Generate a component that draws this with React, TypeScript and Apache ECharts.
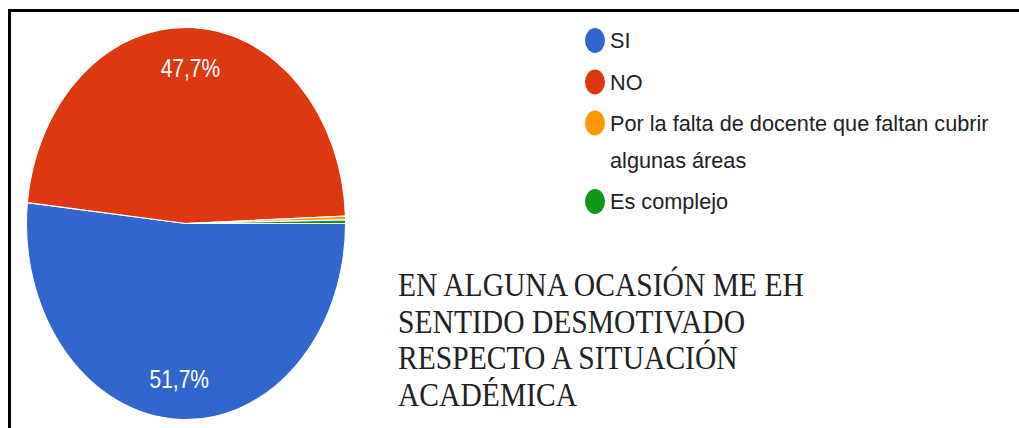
import React, { useEffect, useRef } from 'react';
import * as echarts from 'echarts';

const categories = [
  'SI',
  'NO',
  'Por la falta de docente que faltan cubrir algunas áreas',
  'Es complejo',
];
const shares = [51.7, 47.7, 0.3, 0.3];
const sliceColors = ['#3366cc', '#dc3912', '#ff9900', '#109618'];
const titleLines = [
  'EN ALGUNA OCASIÓN ME EH',
  'SENTIDO DESMOTIVADO',
  'RESPECTO A SITUACIÓN',
  'ACADÉMICA',
];

const STRETCH = 1.23;
const SANS = 'Liberation Sans, Arial, sans-serif';
const SERIF = 'Liberation Serif, Times New Roman, serif';
const ELLIPSE = 'path://M10,0A10,12.5,0,1,1,10,25A10,12.5,0,1,1,10,0Z';

export default function App() {
  const pieRef = useRef<HTMLDivElement>(null);
  const mainRef = useRef<HTMLDivElement>(null);

  useEffect(() => {
    document.body.style.margin = '0';
    const pie = echarts.init(pieRef.current!, null, { renderer: 'svg' });
    const main = echarts.init(mainRef.current!, null, { renderer: 'svg' });

    const data = categories.map((name, i) => ({
      name,
      value: shares[i],
      itemStyle: { color: sliceColors[i] },
    }));

    const R = 159.5;
    const center = [186, 181.7];

    pie.setOption({
      animation: false,
      color: sliceColors,
      series: [
        {
          type: 'pie',
          center,
          radius: [0, R],
          startAngle: 0,
          clockwise: true,
          silent: true,
          data,
          label: { show: false },
          labelLine: { show: false },
          itemStyle: { borderColor: '#ffffff', borderWidth: 1 },
        },
        {
          type: 'pie',
          center,
          radius: [R * 0.55, R],
          startAngle: 0,
          clockwise: true,
          silent: true,
          avoidLabelOverlap: false,
          data: data.map((d) => ({ ...d, itemStyle: { color: 'rgba(0,0,0,0)' } })),
          itemStyle: { color: 'rgba(0,0,0,0)', borderWidth: 0 },
          labelLine: { show: false },
          label: {
            show: true,
            position: 'inside',
            color: '#ffffff',
            fontFamily: SANS,
            fontSize: 21,
            formatter: (p: any) =>
              p.value >= 5 ? p.value.toFixed(1).replace('.', ',') + '%' : '',
          },
        },
      ],
    });

    const legendBase = {
      orient: 'vertical',
      left: 585,
      itemWidth: 20,
      itemHeight: 25,
      itemGap: 16.5,
      itemTextGap: 9,
      icon: ELLIPSE,
      selectedMode: false,
      padding: 0,
    };
    const legendText = { fontFamily: SANS, fontSize: 21.7, color: '#222222', lineHeight: 25 };

    main.setOption({
      animation: false,
      color: sliceColors,
      legend: [
        { ...legendBase, top: 28, data: categories.slice(0, 2), textStyle: legendText },
        {
          ...legendBase,
          top: 67.5,
          data: [categories[2]],
          formatter: (name: string) => ' \n' + name.replace(' algunas', '\nalgunas'),
          textStyle: { ...legendText, lineHeight: 37 },
        },
        { ...legendBase, top: 189, data: [categories[3]], textStyle: legendText },
      ],
      series: [
        {
          type: 'pie',
          center: [-300, -300],
          radius: 1,
          silent: true,
          data,
          label: { show: false },
          labelLine: { show: false },
        },
      ],
      graphic: [
        {
          type: 'line',
          shape: { x1: 8, y1: 10.5, x2: 1019, y2: 10.5 },
          style: { stroke: '#000000', lineWidth: 3 },
        },
        {
          type: 'line',
          shape: { x1: 9.5, y1: 9, x2: 9.5, y2: 428 },
          style: { stroke: '#000000', lineWidth: 3 },
        },
        {
          type: 'text',
          x: 398,
          y: 267,
          scaleY: 1.12,
          style: {
            text: titleLines.join('\n'),
            fontFamily: SERIF,
            fontSize: 29.6,
            lineHeight: 32.6,
            fill: '#222222',
            align: 'left',
            verticalAlign: 'top',
          },
        },
      ],
    });

    return () => {
      pie.dispose();
      main.dispose();
    };
  }, []);

  return (
    <div style={{ position: 'relative', width: 1019, height: 428, overflow: 'hidden', background: '#ffffff' }}>
      <div
        ref={pieRef}
        style={{
          position: 'absolute',
          left: 0,
          top: 0,
          width: 400,
          height: 348,
          transform: `scaleY(${STRETCH})`,
          transformOrigin: '0 0',
        }}
      />
      <div ref={mainRef} style={{ position: 'absolute', left: 0, top: 0, width: 1019, height: 428 }} />
    </div>
  );
}
